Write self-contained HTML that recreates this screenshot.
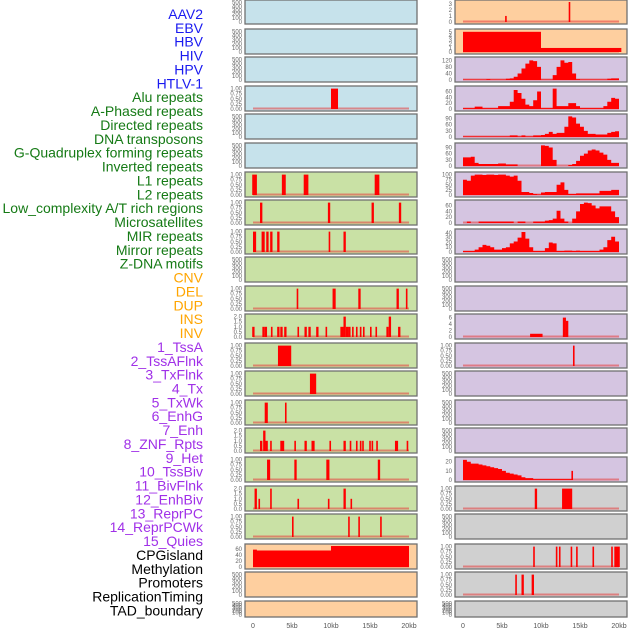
<!DOCTYPE html>
<html><head><meta charset="utf-8"><style>
html,body{margin:0;padding:0;background:#fff;width:630px;height:630px;overflow:hidden}
svg{display:block;font-family:"Liberation Sans",sans-serif}
</style></head><body>
<svg id="chart" width="630" height="630"></svg>
<script>
// ---------- data ----------
const trackLabels = ["AAV2","EBV","HBV","HIV","HPV","HTLV-1","Alu repeats","A-Phased repeats","Directed repeats","DNA transposons","G-Quadruplex forming repeats","Inverted repeats","L1 repeats","L2 repeats","Low_complexity A/T rich regions","Microsatellites","MIR repeats","Mirror repeats","Z-DNA motifs","CNV","DEL","DUP","INS","INV","1_TssA","2_TssAFlnk","3_TxFlnk","4_Tx","5_TxWk","6_EnhG","7_Enh","8_ZNF_Rpts","9_Het","10_TssBiv","11_BivFlnk","12_EnhBiv","13_ReprPC","14_ReprPCWk","15_Quies","CPGisland","Methylation","Promoters","ReplicationTiming","TAD_boundary"];
const labelGroups = ["virus","virus","virus","virus","virus","virus","repeat","repeat","repeat","repeat","repeat","repeat","repeat","repeat","repeat","repeat","repeat","repeat","repeat","sv","sv","sv","sv","sv","chrom","chrom","chrom","chrom","chrom","chrom","chrom","chrom","chrom","chrom","chrom","chrom","chrom","chrom","chrom","other","other","other","other","other"];
const xTickValues = [0,5,10,15,20];
const xTickLabels = ["0","5kb","10kb","15kb","20kb"];

const ticksEmpty = [0,100,200,300,400,500];
const ticksUnit = [0,0.25,0.5,0.75,1];
const ticksTwo = [0,0.5,1,1.5,2];

// binned curves (0.5kb bins, 0..20kb)
const hivValues = [3,3,3,3,3,3,5,3,3,3,3,8,10,20,40,70,100,120,115,80,3,3,3,30,80,120,105,110,40,5,3,3,3,3,3,3,3,8,10,10];
const aluRightValues = [3,3,3,8,8,3,3,3,3,10,10,10,25,65,55,35,15,10,30,60,3,3,3,70,10,10,10,20,20,10,3,3,3,3,3,3,10,25,38,35];
const directedRightValues = [3,3,3,3,3,3,3,3,3,3,3,3,8,8,3,8,3,3,8,8,10,15,25,15,20,20,50,100,95,65,50,30,15,15,12,12,12,20,25,28];
const gquadRightValues = [42,42,45,15,10,10,10,10,10,12,12,8,8,8,0,0,0,0,0,0,100,98,90,30,0,0,0,5,10,25,50,60,75,80,75,65,55,30,15,15];
const l1RightValues = [75,70,95,100,100,98,100,100,98,100,100,95,90,95,70,15,15,10,5,3,12,15,15,15,50,62,25,5,5,8,8,8,8,8,8,20,20,20,25,25];
const lowCompRightValues = [0,5,0,0,5,5,5,5,5,5,5,5,5,0,5,5,0,0,5,5,5,8,10,15,42,15,5,0,15,40,65,70,68,60,50,57,57,57,40,20];
const mirRightValues = [2,2,2,5,10,15,13,10,5,5,8,10,18,22,30,42,28,10,2,2,2,8,20,18,2,2,3,3,2,3,2,2,2,2,2,5,10,25,32,22];
const hetRightValues = [22,20,18,18,17,16,15,14,13,12,10,8,7,6,5,3,2,2,1,1,1,1,1,1,1,1,1,1,0,0,0,0,0,0,0,0,0,0,0,0];
const cpgValues = [58,55,55,55,55,55,55,55,55,55,55,55,55,55,55,55,55,55,55,55,70,70,70,70,70,70,70,70,70,70,70,70,70,70,70,70,70,70,70,70];

// bar segments [startKb, endKb, value]
const aluLeftBars = [[10,10.9,1]];
const l1LeftBars = [[-0.1,0.5,1],[3.7,4.2,1],[6.5,7.1,1],[15.6,16.2,1]];
const lowCompLeftBars = [[0.9,1.2,1],[9.6,9.9,1],[15.2,15.5,1],[18.7,19.0,1]];
const mirLeftBars = [[0,0.4,1],[1.1,1.5,1],[1.7,2.0,1],[2.2,2.5,1],[3.1,3.4,1],[9.7,9.9,1],[11.6,11.9,1]];
const delLeftBars = [[5.6,5.8,1],[10.2,10.6,1],[13.5,13.8,1],[18.4,18.7,1],[19.6,19.8,1]];
const insLeftBars = [[-0.1,0.2,1],[1.2,1.5,1],[1.5,1.8,1],[2.3,2.5,1],[3.1,3.4,1],[3.5,3.8,1],[4.0,4.3,1],[5.7,5.9,1],[6.6,6.9,1],[7.1,7.4,1],[8.1,8.4,1],[9.3,9.5,1],[11.2,11.6,1],[11.6,11.9,2],[11.9,12.3,1],[12.3,12.5,1],[12.7,12.9,1],[13.2,13.4,1],[13.7,13.9,1],[14.1,14.3,1],[15.0,15.2,1],[15.7,15.9,1],[17.1,17.4,1],[17.4,17.7,2],[18.6,18.9,1]];
const tssaLeftBars = [[3.2,4.9,1]];
const tssaFlnkLeftBars = [[7.3,8.1,1]];
const txFlnkLeftBars = [[1.5,1.9,1],[4.1,4.3,1]];
const txLeftBars = [[0.9,1.2,1],[1.3,1.6,2],[1.6,1.9,1],[2.2,2.4,1],[3.5,4.0,1],[5.3,5.5,1],[6.6,6.9,1],[7.5,7.9,1],[9.8,10.0,1],[11.6,11.9,1],[12.4,12.6,1],[13.2,13.4,1],[13.7,13.9,1],[14.0,14.2,1],[14.9,15.1,1],[15.2,15.4,1],[15.8,16.0,1],[18.2,18.6,1],[19.7,19.9,1]];
const txWkLeftBars = [[1.8,2.2,1],[5.3,5.6,1],[9.4,9.8,1],[16.0,16.3,1]];
const enhGLeftBars = [[0.2,0.5,2],[0.7,0.9,1],[2.2,2.4,2],[5.7,5.9,1],[9.6,9.8,1],[11.6,11.9,2],[12.5,12.7,1]];
const enhLeftBars = [[5.0,5.2,1],[12.2,12.4,1],[13.5,13.7,1],[16.3,16.5,1]];
const aav2RightBars = [[5.4,5.6,1],[13.55,13.7,3.3]];
const ebvRightBars = [[0,10,5],[10,20.3,1]];
const insRightBars = [[8.6,10.2,1],[12.8,13.2,6],[13.2,13.5,5]];
const invRightBars = [[14.1,14.3,1]];
const hetRightBars = [[13.9,14.05,10]];
const tssBivRightBars = [[9.2,9.5,1],[12.7,14.0,1]];
const bivFlnkRightBars = [[9.0,9.2,1],[11.9,12.1,1],[12.3,12.5,1],[13.8,14.0,1],[14.5,14.7,1],[16.6,16.8,1],[19.0,19.2,1],[19.4,20.1,1]];
const enhBivRightBars = [[6.7,6.9,1],[7.5,7.8,1],[8.8,9.1,1]];

// ---------- layout ----------
const rowTops = [0,29,57,86,114,143,172,200,229,257,286,314,343,371,400,428,457,486,514,544,572,601];
const BLUE="#c6e2eb", GREEN="#c9e1a5", PEACH="#fecf9f", PURPLE="#d5c5e1", GRAY="#d0d0d0";
const panels = [
 {r:0,c:0,bg:BLUE,t:ticksEmpty,n:"aav2-left"},
 {r:1,c:0,bg:BLUE,t:ticksEmpty,n:"ebv-left"},
 {r:2,c:0,bg:BLUE,t:ticksEmpty,n:"hiv-left"},
 {r:3,c:0,bg:BLUE,t:ticksUnit,bars:aluLeftBars,n:"alu-left"},
 {r:4,c:0,bg:BLUE,t:ticksEmpty,n:"directed-left"},
 {r:5,c:0,bg:BLUE,t:ticksEmpty,n:"gquad-left"},
 {r:6,c:0,bg:GREEN,t:ticksUnit,bars:l1LeftBars,n:"l1-left"},
 {r:7,c:0,bg:GREEN,t:ticksUnit,bars:lowCompLeftBars,n:"lowcomp-left"},
 {r:8,c:0,bg:GREEN,t:ticksUnit,bars:mirLeftBars,n:"mir-left"},
 {r:9,c:0,bg:GREEN,t:ticksEmpty,n:"zdna-left"},
 {r:10,c:0,bg:GREEN,t:ticksUnit,bars:delLeftBars,n:"del-left"},
 {r:11,c:0,bg:GREEN,t:ticksTwo,bars:insLeftBars,n:"ins-left"},
 {r:12,c:0,bg:GREEN,t:ticksUnit,bars:tssaLeftBars,n:"tssa-left"},
 {r:13,c:0,bg:GREEN,t:ticksUnit,bars:tssaFlnkLeftBars,n:"tssaflnk-left"},
 {r:14,c:0,bg:GREEN,t:ticksUnit,bars:txFlnkLeftBars,n:"txflnk-left"},
 {r:15,c:0,bg:GREEN,t:ticksTwo,bars:txLeftBars,n:"tx-left"},
 {r:16,c:0,bg:GREEN,t:ticksUnit,bars:txWkLeftBars,n:"txwk-left"},
 {r:17,c:0,bg:GREEN,t:ticksTwo,bars:enhGLeftBars,n:"enhg-left"},
 {r:18,c:0,bg:GREEN,t:ticksUnit,bars:enhLeftBars,n:"enh-left"},
 {r:19,c:0,bg:PEACH,t:[0,20,40,60],max:70,vals:cpgValues,n:"cpg-left"},
 {r:20,c:0,bg:PEACH,t:ticksEmpty,n:"methylation-left"},
 {r:21,c:0,bg:PEACH,t:ticksEmpty,n:"tad-left"},
 {r:0,c:1,bg:PEACH,t:[0,1,2,3],max:3.3,bars:aav2RightBars,n:"aav2-right"},
 {r:1,c:1,bg:PEACH,t:[0,1,2,3,4,5],max:5.2,bars:ebvRightBars,n:"ebv-right"},
 {r:2,c:1,bg:PURPLE,t:[0,40,80,120],max:128,vals:hivValues,n:"hiv-right"},
 {r:3,c:1,bg:PURPLE,t:[0,20,40,60],max:72,vals:aluRightValues,n:"alu-right"},
 {r:4,c:1,bg:PURPLE,t:[0,30,60,90],max:102,vals:directedRightValues,n:"directed-right"},
 {r:5,c:1,bg:PURPLE,t:[0,30,60,90],max:102,vals:gquadRightValues,n:"gquad-right"},
 {r:6,c:1,bg:PURPLE,t:[0,25,50,75,100],max:103,vals:l1RightValues,n:"l1-right"},
 {r:7,c:1,bg:PURPLE,t:[0,20,40,60],max:72,vals:lowCompRightValues,n:"lowcomp-right"},
 {r:8,c:1,bg:PURPLE,t:[0,10,20,30,40],max:44,vals:mirRightValues,n:"mir-right"},
 {r:9,c:1,bg:PURPLE,t:ticksEmpty,n:"zdna-right"},
 {r:10,c:1,bg:PURPLE,t:ticksEmpty,n:"del-right"},
 {r:11,c:1,bg:PURPLE,t:[0,2,4,6],max:6.5,bars:insRightBars,n:"ins-right"},
 {r:12,c:1,bg:PURPLE,t:ticksUnit,bars:invRightBars,n:"tssa-right"},
 {r:13,c:1,bg:PURPLE,t:ticksEmpty,n:"tssaflnk-right"},
 {r:14,c:1,bg:PURPLE,t:ticksEmpty,n:"txflnk-right"},
 {r:15,c:1,bg:PURPLE,t:ticksEmpty,n:"tx-right"},
 {r:16,c:1,bg:PURPLE,t:[0,10,20],max:23,vals:hetRightValues,bars:hetRightBars,n:"het-right"},
 {r:17,c:1,bg:GRAY,t:ticksUnit,bars:tssBivRightBars,n:"tssbiv-right"},
 {r:18,c:1,bg:GRAY,t:ticksEmpty,n:"enh-right"},
 {r:19,c:1,bg:GRAY,t:ticksUnit,bars:bivFlnkRightBars,n:"cpg-right"},
 {r:20,c:1,bg:GRAY,t:ticksUnit,bars:enhBivRightBars,n:"methylation-right"},
 {r:21,c:1,bg:GRAY,t:ticksEmpty,n:"tad-right"}
];

// ---------- render ----------
const NS="http://www.w3.org/2000/svg";
const svg=document.getElementById('chart');
function mk(tag,attrs,parent){const e=document.createElementNS(NS,tag);for(const k in attrs)e.setAttribute(k,attrs[k]);(parent||svg).appendChild(e);return e;}

const groupColor={virus:"#1a1af0",repeat:"#157a15",sv:"#ffa500",chrom:"#a030e8",other:"#000"};
trackLabels.forEach((lab,i)=>{
  const t=mk('text',{x:203,y:19+i*13.87,'text-anchor':'end','font-size':'14',fill:groupColor[labelGroups[i]]});
  t.textContent=lab;
  
  
});

function xScale(kb,col){return (col?463:253)+kb*7.8;}

panels.forEach(p=>{
  const top=rowTops[p.r];
  const h=p.r===21?16:(p.r===0?24:25);
  const x0=p.c?455:245, w=172;
  const g=mk('g',{});
  
  
  const bg=mk('rect',{x:x0,y:top,width:w,height:h,fill:p.bg,stroke:'#707070','stroke-width':1.3},g);
  
  
  const ticks=p.t;
  const ymax=p.max||ticks[ticks.length-1]*1.03;
  const y0=top+h-2, yTop=top+2;
  const yS=v=>y0-(Math.min(v,ymax)/ymax)*(y0-yTop);
  ticks.forEach(tv=>{
    const lbl=(ticks===ticksUnit)?tv.toFixed(2):(ticks===ticksTwo?tv.toFixed(1):String(tv));
    const t=mk('text',{x:x0-3,y:yS(tv)+2,'text-anchor':'end','font-size':'6',fill:'#666'},g);
    t.textContent=lbl;
    
    
  });
  if(p.vals||p.bars){
    const bl=mk('line',{x1:xScale(0,p.c),x2:xScale(20,p.c),y1:y0-0.5,y2:y0-0.5,stroke:'rgba(230,60,60,0.55)','stroke-width':2},g);
    
    
  }
  if(p.vals){
    let d='M'+xScale(0,p.c)+','+y0;
    p.vals.forEach((v,i)=>{d+=' L'+xScale(i*0.5,p.c)+','+yS(v)+' L'+xScale(i*0.5+0.5,p.c)+','+yS(v);});
    d+=' L'+xScale(20,p.c)+','+y0+' Z';
    const a=mk('path',{d:d,fill:'#ff0000'},g);
    
    
  }
  if(p.bars){
    p.bars.forEach(b=>{
      const xa=xScale(b[0],p.c), xb=xScale(b[1],p.c);
      const r=mk('rect',{x:xa,y:yS(b[2]),width:Math.max(1.6,xb-xa),height:y0-yS(b[2]),fill:'#ff0000'},g);
      
      
    });
  }
});

[0,1].forEach(c=>{
  xTickValues.forEach((v,i)=>{
    const t=mk('text',{x:xScale(v,c),y:628,'text-anchor':'middle','font-size':'7',fill:'#555'});
    t.textContent=xTickLabels[i];
    
    
  });
});
</script>
</body></html>
